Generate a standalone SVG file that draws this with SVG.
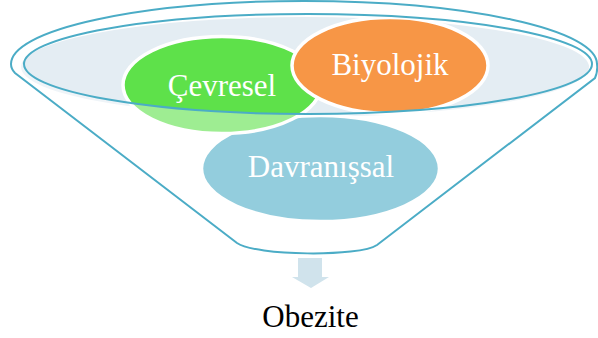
<svg xmlns="http://www.w3.org/2000/svg" width="598" height="338" viewBox="0 0 598 338">
  <style>
    .line { fill: none; stroke: #4bacc6; stroke-width: 2; }
    .circ { stroke: #ffffff; stroke-width: 3.5; }
    .lbl { font-family: "Liberation Serif", "Times New Roman", serif; font-size: 31px; fill: #ffffff; text-anchor: middle; }
    .out { font-family: "Liberation Serif", "Times New Roman", serif; font-size: 31px; fill: #000000; text-anchor: middle; }
  </style>
  <rect width="598" height="338" fill="#ffffff"/>
  <g id="funnel-body">
    <path d="M 237,243 L 15,73 Q 11,69 11,64 A 293 63 0 0 1 597,64 Q 598,71 595,78 L 377,245 C 360,257 255,256 237,243 Z" fill="#ffffff"/>
  </g>
  <g id="rim-fill">
    <ellipse cx="305" cy="67" rx="284" ry="50" fill="#e4edf3"/>
  </g>
  <g id="node-davranissal">
    <ellipse class="circ" cx="320.5" cy="168.5" rx="119" ry="53" fill="#4bacc6"/>
  </g>
  <g id="node-cevresel">
    <ellipse class="circ" cx="222" cy="85" rx="99" ry="48.5" fill="#5ee14a"/>
  </g>
  <g id="node-biyolojik">
    <ellipse class="circ" cx="390" cy="65.5" rx="98" ry="48" fill="#f79646"/>
  </g>
  <g id="funnel-overlay">
    <path d="M 24,64 A 284 50 0 0 0 592,64 L 598,64 L 598,262 L 0,262 L 0,64 Z" fill="#ffffff" fill-opacity="0.4"/>
  </g>
  <g id="labels">
    <text class="lbl" x="222" y="96">Çevresel</text>
    <text class="lbl" x="390" y="75">Biyolojik</text>
    <text class="lbl" x="321" y="177">Davranışsal</text>
  </g>
  <g id="funnel-outline">
    <ellipse class="line" cx="308" cy="64" rx="284" ry="50"/>
    <path class="line" d="M 237,243 L 15,73 Q 11,69 11,64 A 293 63 0 0 1 597,64 Q 598,71 595,78 L 377,245 C 360,257 255,256 237,243 Z"/>
  </g>
  <g id="connectors">
    <polygon points="298,258 322,258 322,277 329,277 311,288 292,277 298,277" fill="#d0e3ec"/>
  </g>
  <g id="node-obezite">
    <text class="out" x="310.5" y="327">Obezite</text>
  </g>
</svg>
